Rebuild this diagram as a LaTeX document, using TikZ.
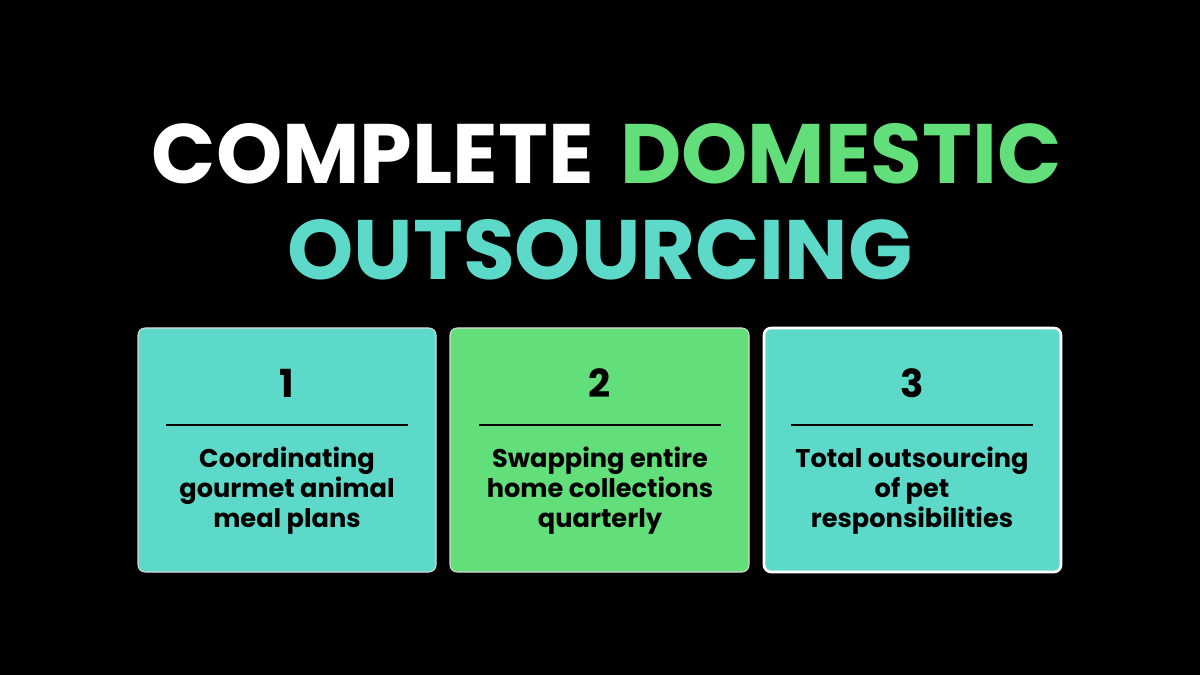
\documentclass[tikz,border=0pt]{standalone}
\usepackage{fontspec}
\setmainfont{Poppins}
\usetikzlibrary{positioning}
\definecolor{tealc}{HTML}{5DD9C9}
\definecolor{greenc}{HTML}{62DE7A}
\begin{document}
\begin{tikzpicture}[x=0.02cm, y=-0.02cm,
        title_style/.style={font=\fontsize{48}{56}\selectfont\bfseries},
        card_style/.style={rounded corners=4pt, draw=white!85!black, line width=0.6pt},
        num_style/.style={font=\fontsize{22}{26}\selectfont\bfseries},
        text_style/.style={font=\fontsize{14.6}{17}\selectfont\bfseries, align=center}]
        \fill [black] (0,0) rectangle (1200,675);
        \useasboundingbox (0,0) rectangle (1200,675);

        \node [title_style, text=white, anchor=base east] (t1) at (600,184) {COMPLETE};
        \node [title_style, text=greenc, anchor=base west] (t2) at (t1.base east) {\,DOMESTIC};
        \node [title_style, text=tealc, anchor=base] (t3) at (600,280) {OUTSOURCING};

        \draw [card_style, fill=tealc] (138,328) rectangle (436,572);
        \draw [card_style, fill=greenc] (450,328) rectangle (749,572);
        \draw [card_style, fill=tealc, draw=white, line width=1.5pt] (764,328) rectangle (1061,572);

        \node [num_style] (n1) at (287,383) {1};
        \node [num_style] (n2) at (600,383) {2};
        \node [num_style] (n3) at (912,383) {3};
        \draw [line width=1.7pt] (166,425) -- (408,425);
        \draw [line width=1.7pt] (479,425) -- (721,425);
        \draw [line width=1.7pt] (791,425) -- (1033,425);

        \node [text_style, anchor=north] (d1) at (287,441) {Coordinating\\gourmet animal\\meal plans};
        \node [text_style, anchor=north] (d2) at (600,441) {Swapping entire\\home collections\\quarterly};
        \node [text_style, anchor=north] (d3) at (912,441) {Total outsourcing\\of pet\\responsibilities};
        \end{tikzpicture}
\end{document}
